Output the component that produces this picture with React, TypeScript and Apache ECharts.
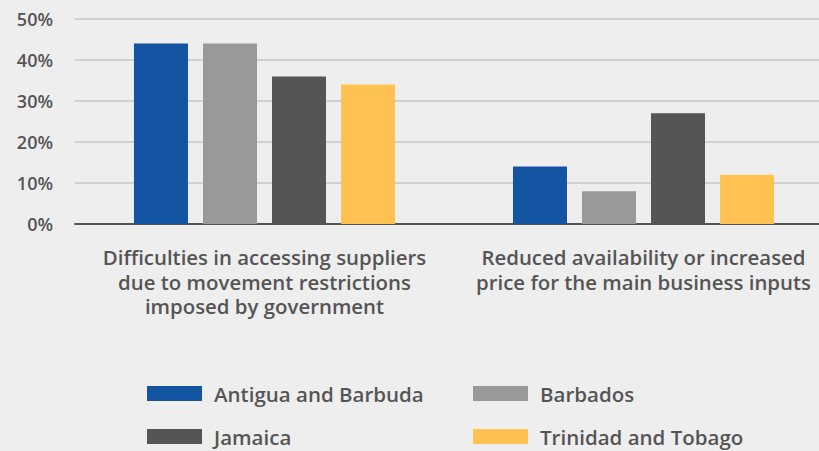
import React, { useEffect, useRef } from "react";
import * as echarts from "echarts";

const categories = [
  "Difficulties in accessing suppliers\ndue to movement restrictions\nimposed by government",
  "Reduced availability or increased\nprice for the main business inputs",
];
const seriesNames = ["Antigua and Barbuda", "Barbados", "Jamaica", "Trinidad and Tobago"];
const antigua = [44, 14];
const barbados = [44, 8];
const jamaica = [36, 27];
const trinidad = [34, 12];
const colors = ["#1455a3", "#9a9899", "#555555", "#fec152"];
const yTicks = [0, 10, 20, 30, 40, 50];

const FONT = "'Open Sans', 'Noto Sans', sans-serif";
const TXT = "#555555";

export default function App() {
  const ref = useRef<HTMLDivElement>(null);
  useEffect(() => {
    document.body.style.margin = "0";
    const chart = echarts.init(ref.current!, null, { renderer: "svg" });
    const values = [antigua, barbados, jamaica, trinidad];
    const legendPos = [
      { left: 147, top: 383 },
      { left: 473, top: 383 },
      { left: 147, top: 426 },
      { left: 473, top: 426 },
    ];
    chart.setOption({
      animation: false,
      backgroundColor: "#eeeeee",
      grid: { left: 75, top: 19, width: 758, height: 205, containLabel: false },
      legend: seriesNames.map((n, i) => ({
        data: [n],
        left: legendPos[i].left,
        top: legendPos[i].top,
        itemWidth: 55,
        itemHeight: 15,
        padding: 0,
        icon: "rect",
        selectedMode: false,
        textStyle: { fontFamily: FONT, fontSize: 20.5, fontWeight: 600, color: TXT, padding: [0, 0, 0, 7] },
      })),
      xAxis: {
        type: "category",
        data: categories,
        axisTick: { show: false },
        axisLine: { lineStyle: { color: "#555555", width: 2 } },
        axisLabel: {
          interval: 0,
          margin: 21,
          fontFamily: FONT,
          fontSize: 20.4,
          fontWeight: 600,
          color: TXT,
          lineHeight: 24.5,
          align: "center",
        },
      },
      yAxis: {
        type: "value",
        min: yTicks[0],
        max: yTicks[yTicks.length - 1],
        interval: 10,
        axisLabel: {
          formatter: "{value}%",
          margin: 22,
          fontFamily: FONT,
          fontSize: 18,
          fontWeight: 600,
          color: TXT,
        },
        splitLine: { lineStyle: { color: "#c6c6c6", width: 1.5 } },
        axisLine: { show: false },
        axisTick: { show: false },
      },
      series: seriesNames.map((n, i) => ({
        name: n,
        type: "bar",
        data: values[i],
        barWidth: 54,
        barGap: "27.8%",
        itemStyle: { color: colors[i] },
      })),
    });
    return () => chart.dispose();
  }, []);
  return (
    <div style={{ position: "absolute", left: 0, top: 0, width: 819, height: 451, overflow: "hidden", background: "#eeeeee" }}>
      <div ref={ref} style={{ width: 840, height: 451 }} />
    </div>
  );
}
